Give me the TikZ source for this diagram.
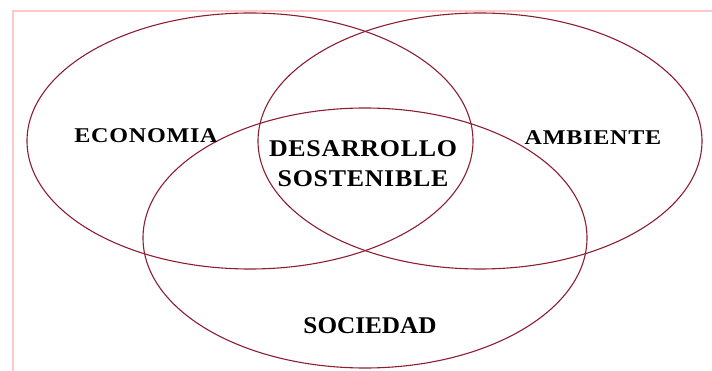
\documentclass[tikz,border=0pt]{standalone}
\usepackage{fontspec}
\setmainfont{Liberation Serif}
\usepackage{tikz}
\definecolor{setred}{RGB}{140,30,50}
\definecolor{framepink}{RGB}{255,200,200}

\begin{document}
\begin{tikzpicture}[x=1pt,y=-1pt,
  setline/.style={draw=setred,line width=1.1pt},
  smalllabel/.style={text=black,inner sep=0pt,anchor=base,font=\fontsize{21}{24}\selectfont\bfseries\addfontfeature{FakeStretch=1.15,LetterSpace=3.5}},
  biglabel/.style={text=black,inner sep=0pt,anchor=base,align=center,font=\fontsize{24}{30}\selectfont\bfseries\addfontfeature{FakeStretch=1.05}}]
\useasboundingbox (0,0) rectangle (712,371);
\draw [draw=framepink,line width=1.5pt] (13,371)--(13,11)--(712,11);
\draw [setline] (250,141) ellipse [x radius=223pt,y radius=128pt];
\draw [setline] (480,141) ellipse [x radius=222pt,y radius=128pt];
\draw [setline] (365,238) ellipse [x radius=222pt,y radius=130pt];
\node[smalllabel] (eco) at (146,143) {ECONOMIA};
\node[smalllabel] (amb) at (593,145) {AMBIENTE};
\node[biglabel,font=\fontsize{24}{30}\selectfont\bfseries\addfontfeature{FakeStretch=1.08,LetterSpace=3}] (des) at (363,187) {DESARROLLO\\SOSTENIBLE};
\node[biglabel] (soc) at (370,334) {SOCIEDAD};
\end{tikzpicture}
\end{document}
